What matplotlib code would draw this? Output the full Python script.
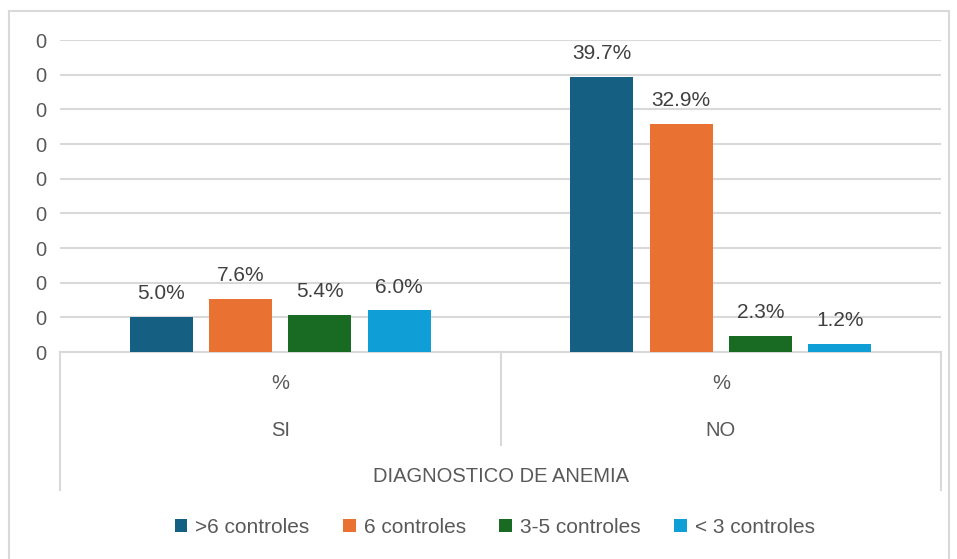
import matplotlib.pyplot as plt
from matplotlib.patches import Rectangle
import numpy as np

groups = ['SI', 'NO']
series = ['>6 controles', '6 controles', '3-5 controles', '< 3 controles']
values = [
    [0.050, 0.397],
    [0.076, 0.329],
    [0.054, 0.023],
    [0.060, 0.012],
]
colors = ['#156082', '#E97132', '#196B24', '#0F9ED5']

plt.rcParams['font.family'] = ['Liberation Sans', 'DejaVu Sans']

fig = plt.figure(figsize=(9.57, 5.59), dpi=100)
ax = fig.add_axes([0.0627, 0.3703, 0.9206, 0.5581])

x = np.arange(len(groups))
width = 0.143
step = 0.18
for i, (name, vals) in enumerate(zip(series, values)):
    pos = x + (i - 1.5) * step
    bars = ax.bar(pos, vals, width, color=colors[i], label=name, zorder=3)
    for b, v in zip(bars, vals):
        ax.annotate(f'{v*100:.1f}%', (b.get_x() + b.get_width() / 2, v),
                    xytext=(0, 10), textcoords='offset points',
                    ha='center', va='bottom', fontsize=15, color='#404040')

ax.set_xlim(-0.5, 1.5)
ax.set_ylim(0, 0.45)
ax.set_yticks(np.arange(0, 0.46, 0.05))
ax.yaxis.set_major_formatter(plt.FuncFormatter(lambda v, p: f'{v:.0f}'))
ax.tick_params(axis='y', length=0, pad=10, labelsize=14.5, labelcolor='#595959')
ax.set_xticks([])
ax.grid(axis='y', color='#d9d9d9', linewidth=1.5, zorder=0)
for s in ['top', 'right', 'left']:
    ax.spines[s].set_visible(False)
ax.spines['bottom'].set_color('#d9d9d9')
ax.spines['bottom'].set_linewidth(1.5)

# multi-level category axis
tr = ax.get_xaxis_transform()
for xs, y0 in [(-0.5, -0.442), (0.5, -0.298), (1.5, -0.442)]:
    ax.plot([xs, xs], [0, y0], transform=tr, color='#d9d9d9', lw=1.5, clip_on=False)
for i, g in enumerate(groups):
    ax.text(i, -0.102, '%', transform=tr, ha='center', va='center', fontsize=14.5, color='#595959')
    ax.text(i, -0.252, g, transform=tr, ha='center', va='center', fontsize=14.5, color='#595959')
ax.text(0.5, -0.399, 'DIAGNOSTICO DE ANEMIA', transform=tr, ha='center', va='center',
        fontsize=14.5, color='#595959')

fig.legend(loc='center', bbox_to_anchor=(0.517, 0.057), ncol=4, frameon=False,
           fontsize=15, handlelength=0.6, handleheight=0.6, handletextpad=0.4,
           columnspacing=1.6, labelcolor='#595959')

fig.patches.append(Rectangle((9 / 957, -0.05), 940 / 957, 1.05 - 11 / 559,
                             transform=fig.transFigure, fill=False,
                             edgecolor='#d9d9d9', linewidth=1.5))

fig.savefig('out.png', dpi=100)
